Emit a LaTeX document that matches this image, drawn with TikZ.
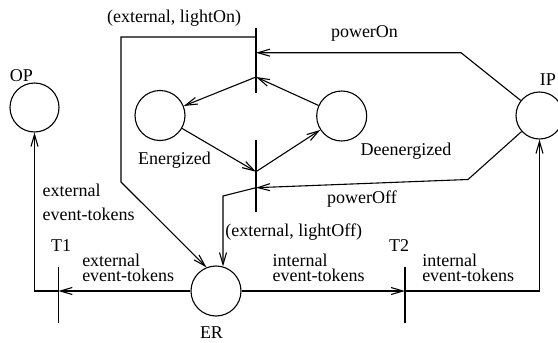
\documentclass[tikz,border=0pt]{standalone}
\usepackage{fontspec}
\setmainfont{Liberation Serif}
\usetikzlibrary{arrows.meta}
\begin{document}
\begin{tikzpicture}[x=1pt,y=-1pt,
  line width=1.1pt,
  every node/.style={font=\fontsize{18}{15}\selectfont, inner sep=0pt},
  place/.style={circle, draw, minimum size=#1, inner sep=0pt},
  place/.default=50pt,
  arc/.style={-{Straight Barb[length=12pt,width=7pt]}},
  lbl/.style={anchor=base},
  lblw/.style={anchor=base west, align=left}]
\useasboundingbox (0,0) rectangle (558,343);

% places
\node[place=49pt] (OP) at (34.5,107.5) {};
\node[place] (En) at (160,115.5) {};
\node[place] (De) at (341.7,116) {};
\node[place=47pt] (IP) at (539.5,115.5) {};
\node[place] (ER) at (216,291) {};

% transitions (vertical bars) and their connection points
\coordinate (onTop) at (256,28);
\coordinate (onBot) at (256,93);
\coordinate (onOut) at (256,37);
\coordinate (onIn) at (256,52.7);
\coordinate (onFire) at (256,77);
\coordinate (offTop) at (256,140);
\coordinate (offBot) at (256,211.7);
\coordinate (offFire) at (256,171.7);
\coordinate (offIn) at (256,187.7);
\coordinate (T1top) at (58.3,266.7);
\coordinate (T1bot) at (58.3,323);
\coordinate (T1mid) at (58.3,291);
\coordinate (T2top) at (405,266.7);
\coordinate (T2bot) at (405,323);
\coordinate (T2mid) at (405,291);

\draw (onTop) -- (onBot);
\draw (offTop) -- (offBot);
\draw (T1top) -- (T1bot);
\draw (T2top) -- (T2bot);

% arcs
\draw[arc] (IP) -- (461,52.7) -- (onIn);
\draw[arc] (De) -- (onFire);
\draw[arc] (onFire) -- (En);
\draw[arc] (onOut) -- (121,37) -- (121,182) -- (ER.112);
\draw[arc] (En) -- (offFire);
\draw[arc] (offFire) -- (De);
\draw[arc] (IP) -- (468,179.5) -- (offIn);
\draw[arc] (offIn) -- (223,196) -- (ER.74);
\draw[arc] (ER.west) -- (T1mid);
\draw[arc] (T1mid) -- (34.5,291) -- (OP.south);
\draw[arc] (ER.east) -- (T2mid);
\draw[arc] (T2mid) -- (539.5,291) -- (IP.south);

% labels (multi-line labels are anchored at the baseline of their last line)
\node[lbl] (lOn) at (174,22) {(external, lightOn)};
\node[lbl] (lPowerOn) at (364.5,37) {powerOn};
\node[lbl] (lOP) at (21.5,81.7) {OP};
\node[lbl] (lIP) at (548,85) {IP};
\node[lbl] (lEn) at (174.5,164) {Energized};
\node[lbl] (lDe) at (406,155.7) {Deenergized};
\node[lbl] (lPowerOff) at (362,203.5) {powerOff};
\node[lbl] (lOff) at (293.7,236) {(external, lightOff)};
\node[lbl] (lT1) at (61,251) {T1};
\node[lbl] (lT2) at (399,251.7) {T2};
\node[lbl] (lER) at (211.5,338) {ER};
\node[lblw] (lExtOut) at (42,220.7) {external\\[9.7pt]event-tokens};
\node[lblw] (lExtIn) at (81.7,281.7) {external\\event-tokens};
\node[lblw] (lIntIn) at (272,281.7) {internal\\event-tokens};
\node[lblw] (lIntOut) at (421.7,281.7) {internal\\event-tokens};
\end{tikzpicture}
\end{document}
